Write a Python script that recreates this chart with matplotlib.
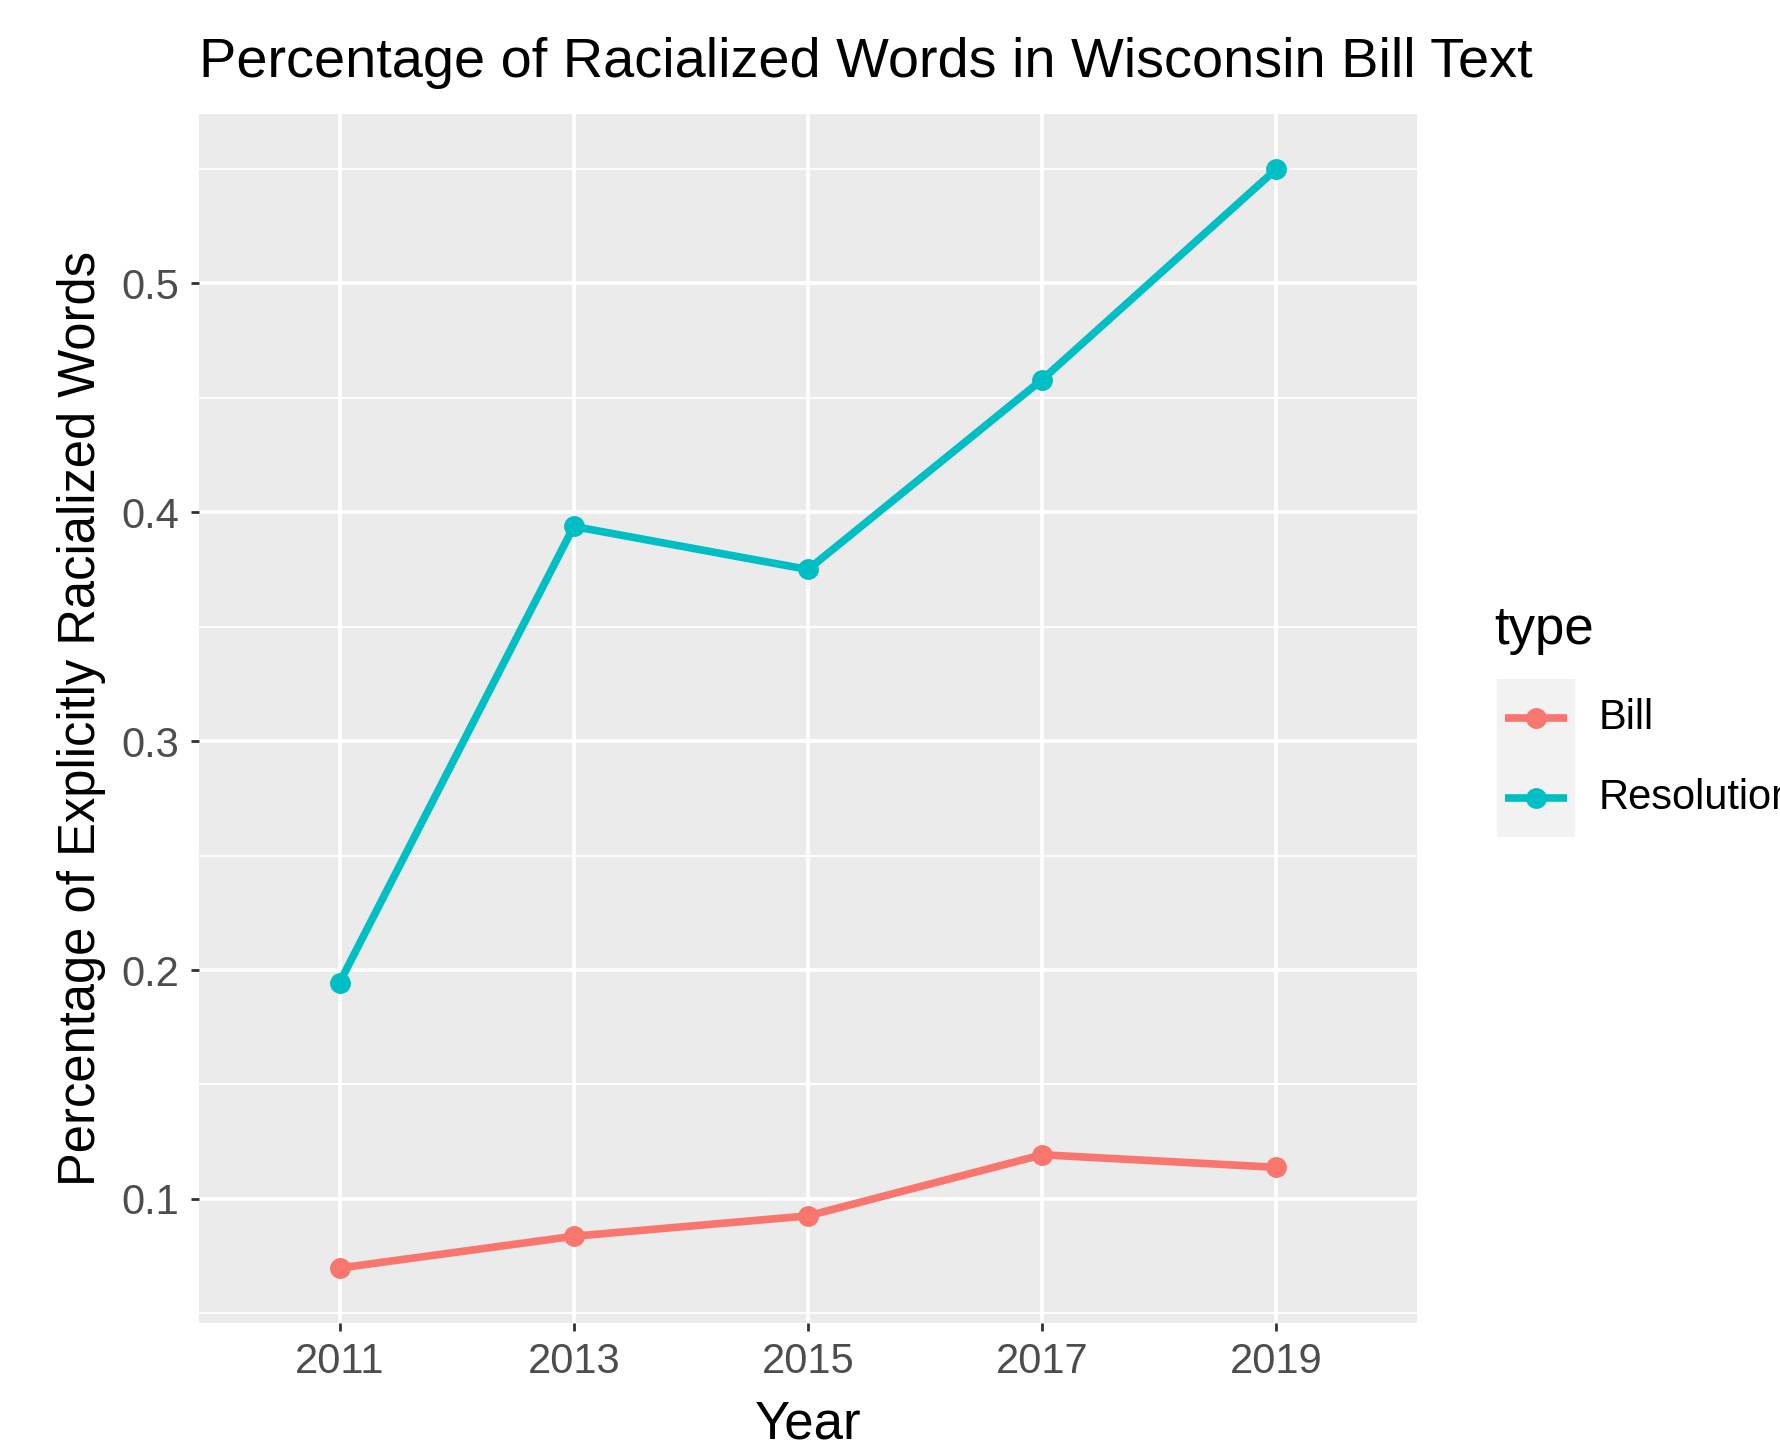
import numpy as np
import matplotlib
matplotlib.use("Agg")
from matplotlib import pyplot as plt
from matplotlib.lines import Line2D
from matplotlib.patches import Rectangle

years = ["2011", "2013", "2015", "2017", "2019"]
series_names = ["Bill", "Resolution"]
bill = [0.0698, 0.0837, 0.0926, 0.1193, 0.1138]
resolution = [0.1945, 0.3938, 0.3750, 0.4580, 0.5500]
colors = ["#F8766D", "#00BFC4"]

plt.rcParams['font.family'] = ['Liberation Sans', 'DejaVu Sans']

W, H = 1781, 1447
fig = plt.figure(figsize=(W / 100, H / 100), dpi=100)
ax = fig.add_axes([199 / W, 1 - 1323 / H, (1417 - 199) / W, (1323 - 114) / H])
ax.set_facecolor("#EBEBEB")
for s in ax.spines.values():
    s.set_visible(False)

x = np.arange(len(years))
ymin = min(bill + resolution)
ymax = max(bill + resolution)
pad = 0.05 * (ymax - ymin)
ax.set_xlim(-0.6, len(years) - 1 + 0.6)
ax.set_ylim(ymin - pad, ymax + pad)

ax.set_yticks([0.1, 0.2, 0.3, 0.4, 0.5])
ax.set_yticks([0.05, 0.15, 0.25, 0.35, 0.45, 0.55], minor=True)
ax.set_xticks(x)
ax.set_xticklabels(years)
ax.grid(True, which="major", color="white", linewidth=2.6)
ax.grid(True, which="minor", axis="y", color="white", linewidth=1.3)
ax.set_axisbelow(True)
ax.tick_params(which="major", length=6, width=2, color="#333333",
               labelsize=30, labelcolor="#4D4D4D", pad=8)
ax.tick_params(which="minor", length=0)

for vals, c in zip([bill, resolution], colors):
    ax.plot(x, vals, color=c, linewidth=5.5, marker="o", markersize=14,
            solid_capstyle="butt", zorder=3)

ax.set_xlabel("Year", fontsize=38, labelpad=12)
ax.set_ylabel("Percentage of Explicitly Racialized Words", fontsize=36.5, labelpad=11)
fig.text(199 / W, 1 - 77 / H, "Percentage of Racialized Words in Wisconsin Bill Text",
         fontsize=40.2, va="baseline", ha="left")

# legend drawn in figure pixels
fig.text(1494 / W, 1 - 630 / H, "type", fontsize=38, va="center", ha="left")
fig.add_artist(Rectangle((1497 / W, 1 - 837 / H), (1575 - 1497) / W, (837 - 679) / H,
                         transform=fig.transFigure, facecolor="#F2F2F2", edgecolor="none"))
for i, (name, c) in enumerate(zip(series_names, colors)):
    yk = 1 - (718 + 80 * i) / H
    fig.add_artist(Line2D([1505 / W, 1567 / W], [yk, yk], transform=fig.transFigure,
                          color=c, linewidth=5.5, solid_capstyle="butt"))
    fig.add_artist(Line2D([1536 / W], [yk], transform=fig.transFigure, color=c,
                          marker="o", markersize=14))
    fig.text(1599 / W, yk, name, fontsize=30, va="center", ha="left")

fig.savefig("out.png", dpi=100)
